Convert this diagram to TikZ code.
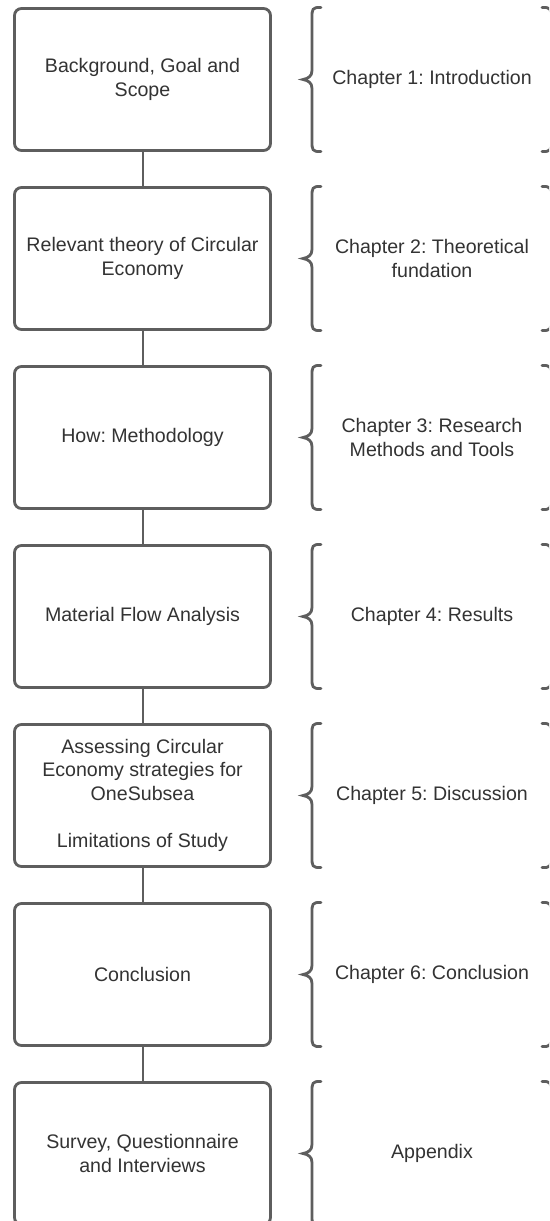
\documentclass[tikz,border=0pt]{standalone}
\usepackage{fontspec}
\setmainfont{Liberation Sans}
\frenchspacing
\definecolor{edge}{HTML}{5E5E5E}
\definecolor{txt}{HTML}{333333}
\begin{document}
\begin{tikzpicture}[x=1pt,y=-1pt,
  box/.style={draw=edge, line width=2.8pt, rounded corners=7pt, minimum width=256pt, minimum height=142pt, align=center, text=txt, font=\fontsize{19.6}{23.6}\selectfont\frenchspacing, inner sep=0pt},
  chap/.style={text=txt, align=center, font=\fontsize{19.6}{23.6}\selectfont\frenchspacing, inner sep=0pt},
  link/.style={draw=edge, line width=2pt},
  brace/.style={draw=edge, line width=2.8pt, line cap=round}]
\useasboundingbox (0,0) rectangle (549,1221);
\clip (0,0) rectangle (549,1221);
\fill[white] (0,0) rectangle (549,1221);

\node[box] (b1) at (142.5,79.5) {Background, Goal and\\Scope};
\node[box] (b2) at (142.5,258.5) {Relevant theory of Circular\\Economy};
\node[box] (b3) at (142.5,437.5) {How: Methodology};
\node[box] (b4) at (142.5,616.5) {Material Flow Analysis};
\node[box] (b5) at (142.5,795.5) {Assessing Circular\\Economy strategies for\\OneSubsea\\[23.6pt]Limitations of Study};
\node[box] (b6) at (142.5,974.5) {Conclusion};
\node[box] (b7) at (142.5,1153.5) {Survey, Questionnaire\\and Interviews};

\node[chap] (c1) at (432,79.5) {Chapter 1: Introduction};
\node[chap] (c2) at (432,258.5) {Chapter 2: Theoretical\\fundation};
\node[chap] (c3) at (432,437.5) {Chapter 3: Research\\Methods and Tools};
\node[chap] (c4) at (432,616.5) {Chapter 4: Results};
\node[chap] (c5) at (432,795.5) {Chapter 5: Discussion};
\node[chap] (c6) at (432,974.5) {Chapter 6: Conclusion};
\node[chap] (c7) at (432,1153.5) {Appendix};

\foreach \a/\b in {b1/b2,b2/b3,b3/b4,b4/b5,b5/b6,b6/b7}
  \draw[link] (\a.south) -- (\b.north);

\foreach \c in {79.5,258.5,437.5,616.5,795.5,974.5,1153.5}{
  \draw[brace] (321,\c-72) .. controls (312,\c-72.5) and (312,\c-70) .. (312,\c-62) -- (312,\c-9)
     .. controls (312,\c-3) and (308,\c-1) .. (303,\c) .. controls (308,\c+1) and (312,\c+3) .. (312,\c+9)
     -- (312,\c+62) .. controls (312,\c+70) and (312,\c+72.5) .. (321,\c+72);
  \draw[brace] (542,\c-72) .. controls (551,\c-72.5) and (551,\c-70) .. (551,\c-62) -- (551,\c-9)
     .. controls (551,\c-3) and (555,\c-1) .. (560,\c) .. controls (555,\c+1) and (551,\c+3) .. (551,\c+9)
     -- (551,\c+62) .. controls (551,\c+70) and (551,\c+72.5) .. (542,\c+72);
}
\end{tikzpicture}
\end{document}
